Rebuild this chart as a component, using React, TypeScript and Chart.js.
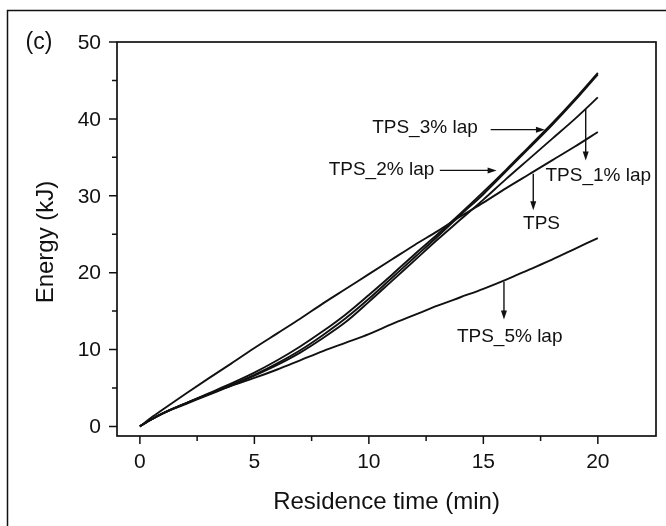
import React, { useEffect, useRef } from "react";
import { Chart, registerables } from "chart.js";

Chart.register(...registerables);

// ---- data ----
const xValues = [0, 0.5, 1, 2, 3, 4, 5, 6, 7, 8, 9, 10, 11, 12, 13, 14, 15, 16, 17, 18, 19, 20];
const tps = [0, 1.15, 2.2, 4.25, 6.25, 8.2, 10.2, 12.1, 14.0, 16.0, 17.9, 19.8, 21.7, 23.6, 25.4, 27.3, 29.1, 31.0, 32.8, 34.6, 36.4, 38.3];
const tps1 = [0, 0.9, 1.7, 2.9, 4.1, 5.3, 6.6, 8.0, 9.6, 11.5, 13.6, 16.2, 18.9, 21.6, 24.3, 26.9, 29.5, 32.2, 34.8, 37.4, 40.0, 42.8];
const tps2 = [0, 0.9, 1.7, 3.0, 4.2, 5.4, 6.7, 8.2, 9.9, 11.9, 14.1, 16.6, 19.3, 22.0, 24.7, 27.5, 30.2, 33.2, 36.2, 39.2, 42.4, 45.8];
const tps3 = [0, 0.9, 1.7, 3.0, 4.3, 5.6, 7.0, 8.6, 10.4, 12.4, 14.6, 17.1, 19.7, 22.4, 25.0, 27.7, 30.5, 33.4, 36.4, 39.4, 42.6, 46.0];
const tps5 = [0, 0.9, 1.7, 3.0, 4.2, 5.3, 6.3, 7.4, 8.6, 9.8, 10.9, 12.0, 13.3, 14.5, 15.7, 16.8, 17.9, 19.1, 20.4, 21.7, 23.1, 24.5];

const xMajorTicks = [0, 5, 10, 15, 20];
const xMinorTicks = [2.5, 7.5, 12.5, 17.5];
const yMajorTicks = [0, 10, 20, 30, 40, 50];
const yMinorTicks = [5, 15, 25, 35, 45];

const xTitle = "Residence time (min)";
const yTitle = "Energy (kJ)";
const panelLabel = "(c)";

// labels with arrows, in data coordinates
const annotations = [
  { text: "TPS_3% lap", tx: 12.45, ty: 38.8, arrow: [15.32, 38.6, 17.69, 38.6] },
  { text: "TPS_2% lap", tx: 10.55, ty: 33.4, arrow: [13.1, 33.3, 15.58, 33.3] },
  { text: "TPS_1% lap", tx: 20.02, ty: 32.6, arrow: [19.47, 41.3, 19.47, 34.6] },
  { text: "TPS", tx: 17.54, ty: 26.4, arrow: [17.18, 32.85, 17.18, 28.1] },
  { text: "TPS_5% lap", tx: 16.15, ty: 11.6, arrow: [15.9, 18.8, 15.9, 13.9] },
];

const series = [
  { label: "TPS", values: tps },
  { label: "TPS_1% lap", values: tps1 },
  { label: "TPS_2% lap", values: tps2 },
  { label: "TPS_3% lap", values: tps3 },
  { label: "TPS_5% lap", values: tps5 },
];

const INK = "#111";
const FONT = '"Liberation Sans", Arial, Helvetica, sans-serif';

const decorPlugin = {
  id: "decor",
  afterDraw(chart: any) {
    const ctx = chart.ctx as CanvasRenderingContext2D;
    const xs = chart.scales.x;
    const ys = chart.scales.y;
    const a = chart.chartArea;
    ctx.save();
    ctx.strokeStyle = INK;
    ctx.fillStyle = INK;

    // outer figure frame (top & left visible)
    ctx.lineWidth = 1.5;
    ctx.beginPath();
    ctx.moveTo(7.5, 526);
    ctx.lineTo(7.5, 10.5);
    ctx.lineTo(666, 10.5);
    ctx.stroke();

    // plot box
    ctx.lineWidth = 1.7;
    ctx.strokeRect(a.left, a.top, a.right - a.left, a.bottom - a.top);

    // ticks
    ctx.lineWidth = 1.5;
    ctx.beginPath();
    yMajorTicks.forEach((v) => {
      const p = ys.getPixelForValue(v);
      ctx.moveTo(a.left, p);
      ctx.lineTo(a.left - 8, p);
    });
    yMinorTicks.forEach((v) => {
      const p = ys.getPixelForValue(v);
      ctx.moveTo(a.left, p);
      ctx.lineTo(a.left - 5, p);
    });
    xMajorTicks.forEach((v) => {
      const p = xs.getPixelForValue(v);
      ctx.moveTo(p, a.bottom);
      ctx.lineTo(p, a.bottom + 8);
    });
    xMinorTicks.forEach((v) => {
      const p = xs.getPixelForValue(v);
      ctx.moveTo(p, a.bottom);
      ctx.lineTo(p, a.bottom + 5);
    });
    ctx.stroke();

    // tick labels
    ctx.font = `21px ${FONT}`;
    ctx.textBaseline = "middle";
    ctx.textAlign = "right";
    yMajorTicks.forEach((v) => {
      ctx.fillText(String(v), a.left - 16, ys.getPixelForValue(v) + 1);
    });
    ctx.textAlign = "center";
    xMajorTicks.forEach((v) => {
      ctx.fillText(String(v), xs.getPixelForValue(v), a.bottom + 26);
    });

    // axis titles
    ctx.font = `24px ${FONT}`;
    ctx.fillText(xTitle, (a.left + a.right) / 2, a.bottom + 66);
    ctx.save();
    ctx.translate(46, (a.top + a.bottom) / 2 + 3);
    ctx.rotate(-Math.PI / 2);
    ctx.fillText(yTitle, 0, 0);
    ctx.restore();

    // panel label
    ctx.font = `23px ${FONT}`;
    ctx.fillText(panelLabel, 39, 43);

    // annotations
    ctx.font = `19px ${FONT}`;
    ctx.lineWidth = 1.4;
    annotations.forEach((an) => {
      ctx.fillText(an.text, xs.getPixelForValue(an.tx), ys.getPixelForValue(an.ty));
      const [x1, y1, x2, y2] = an.arrow;
      const px1 = xs.getPixelForValue(x1);
      const py1 = ys.getPixelForValue(y1);
      const px2 = xs.getPixelForValue(x2);
      const py2 = ys.getPixelForValue(y2);
      const ang = Math.atan2(py2 - py1, px2 - px1);
      const hl = 9;
      const hw = 3;
      ctx.beginPath();
      ctx.moveTo(px1, py1);
      ctx.lineTo(px2 - Math.cos(ang) * hl * 0.8, py2 - Math.sin(ang) * hl * 0.8);
      ctx.stroke();
      ctx.beginPath();
      ctx.moveTo(px2, py2);
      ctx.lineTo(
        px2 - Math.cos(ang) * hl - Math.sin(ang) * hw,
        py2 - Math.sin(ang) * hl + Math.cos(ang) * hw
      );
      ctx.lineTo(
        px2 - Math.cos(ang) * hl + Math.sin(ang) * hw,
        py2 - Math.sin(ang) * hl - Math.cos(ang) * hw
      );
      ctx.closePath();
      ctx.fill();
    });

    ctx.restore();
  },
};

export default function App() {
  const ref = useRef<HTMLCanvasElement | null>(null);

  useEffect(() => {
    if (!ref.current) return;
    const chart = new Chart(ref.current, {
      type: "line",
      data: {
        datasets: series.map((s) => ({
          label: s.label,
          data: xValues.map((x, i) => ({ x, y: s.values[i] })),
          borderColor: INK,
          borderWidth: 1.9,
          pointRadius: 0,
          fill: false,
          cubicInterpolationMode: "monotone" as const,
        })),
      },
      options: {
        animation: false,
        responsive: false,
        devicePixelRatio: 1,
        layout: { padding: { top: 42, right: 10, left: 0, bottom: 0 } },
        plugins: {
          legend: { display: false },
          tooltip: { enabled: false },
        },
        scales: {
          x: {
            type: "linear",
            min: -1,
            max: 22.54,
            grid: { display: false },
            border: { display: false },
            ticks: { display: false },
            afterFit: (s: any) => {
              s.height = 90;
            },
          },
          y: {
            type: "linear",
            min: -1.25,
            max: 50,
            grid: { display: false },
            border: { display: false },
            ticks: { display: false },
            afterFit: (s: any) => {
              s.width = 117;
            },
          },
        },
      },
      plugins: [decorPlugin],
    });
    return () => chart.destroy();
  }, []);

  return (
    <div style={{ position: "absolute", left: 0, top: 0, width: 666, height: 526, background: "#fff" }}>
      <canvas ref={ref} width={666} height={526} style={{ display: "block" }} />
    </div>
  );
}
